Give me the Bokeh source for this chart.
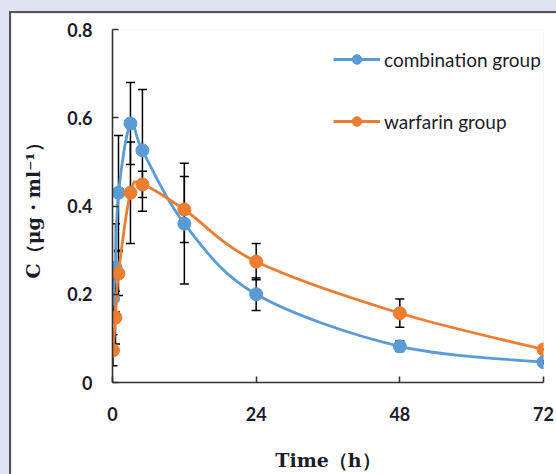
from bokeh.plotting import figure
from bokeh.models import ColumnDataSource, Whisker, TeeHead, Legend, LegendItem, Range1d, FixedTicker
from bokeh.embed import file_html
from bokeh.resources import INLINE

# ---- data ----
times = [0.083, 0.5, 1, 3, 5, 12, 24, 48, 72]
combination = [0.19, 0.26, 0.43, 0.587, 0.526, 0.36, 0.20, 0.082, 0.046]
combination_sd = [0.05, 0.10, 0.13, 0.093, 0.138, 0.137, 0.037, 0.012, 0.004]
warfarin = [0.073, 0.147, 0.247, 0.43, 0.449, 0.392, 0.274, 0.157, 0.075]
warfarin_sd = [0.035, 0.06, 0.05, 0.115, 0.03, 0.075, 0.041, 0.032, 0.0]
x_ticks = [0, 24, 48, 72]
y_ticks = [0, 0.2, 0.4, 0.6, 0.8]
y_tick_labels = ["0", "0.2", "0.4", "0.6", "0.8"]
series_names = ["combination group", "warfarin group"]

BLUE = "#5b9bd5"
ORANGE = "#ed7d31"
TEXT = "#1c1c28"

p = figure(width=547, height=463, output_backend="svg", toolbar_location=None,
           x_range=Range1d(0, 72), y_range=Range1d(0, 0.8),
           min_border_left=101, min_border_right=15, min_border_top=16, min_border_bottom=94)
p.styles = {"border-left": "2px solid #555", "border-top": "2px solid #555"}
p.background_fill_color = "white"
p.border_fill_color = "white"
p.outline_line_color = None
p.grid.visible = False

for ax in (p.xaxis[0], p.yaxis[0]):
    ax.axis_line_color = "#333333"
    ax.axis_line_width = 1.6
    ax.major_tick_line_color = "#333333"
    ax.major_tick_line_width = 1.6
    ax.major_tick_in = 6
    ax.major_tick_out = 0
    ax.minor_tick_line_color = None
    ax.major_label_text_font = "Lato"
    ax.major_label_text_font_style = "bold"
    ax.major_label_text_font_size = "18px"
    ax.major_label_text_color = TEXT
    ax.axis_label_text_font = "DejaVu Serif"
    ax.axis_label_text_font_style = "bold"
    ax.axis_label_text_color = TEXT

p.xaxis.ticker = FixedTicker(ticks=x_ticks)
p.xaxis.major_label_standoff = 24
p.xaxis.axis_label = "Time（h）"
p.xaxis.axis_label_text_font_size = "19px"
p.xaxis.axis_label_standoff = 25

p.yaxis.ticker = FixedTicker(ticks=y_ticks)
p.yaxis.major_label_overrides = {t: l for t, l in zip(y_ticks, y_tick_labels)}
p.yaxis.major_label_standoff = 20
p.yaxis.axis_label = "C（μg・ml⁻¹）"
p.yaxis.axis_label_text_font_size = "19px"
p.yaxis.axis_label_standoff = 20


def smooth_segments(xs, ys):
    n = len(xs)
    seg = dict(x0=[], y0=[], x1=[], y1=[], cx0=[], cy0=[], cx1=[], cy1=[])
    for i in range(n - 1):
        xm, ym = (xs[i - 1], ys[i - 1]) if i > 0 else (xs[i], ys[i])
        xp, yp = (xs[i + 2], ys[i + 2]) if i + 2 < n else (xs[i + 1], ys[i + 1])
        seg["x0"].append(xs[i]); seg["y0"].append(ys[i])
        seg["x1"].append(xs[i + 1]); seg["y1"].append(ys[i + 1])
        seg["cx0"].append(xs[i] + (xs[i + 1] - xm) / 6)
        seg["cy0"].append(ys[i] + (ys[i + 1] - ym) / 6)
        seg["cx1"].append(xs[i + 1] - (xp - xs[i]) / 6)
        seg["cy1"].append(ys[i + 1] - (yp - ys[i]) / 6)
    return seg


items = []
for name, vals, sds, col in [(series_names[0], combination, combination_sd, BLUE),
                             (series_names[1], warfarin, warfarin_sd, ORANGE)]:
    src = ColumnDataSource(dict(t=times, v=vals,
                                lo=[v - s for v, s in zip(vals, sds)],
                                hi=[v + s for v, s in zip(vals, sds)]))
    w = Whisker(base="t", lower="lo", upper="hi", source=src,
                line_color="black", line_width=1.5,
                upper_head=TeeHead(size=9, line_color="black", line_width=1.5),
                lower_head=TeeHead(size=9, line_color="black", line_width=1.5))
    p.add_layout(w)
    seg = smooth_segments(times, vals)
    bz = p.bezier(source=ColumnDataSource(seg), x0="x0", y0="y0", x1="x1", y1="y1",
                  cx0="cx0", cy0="cy0", cx1="cx1", cy1="cy1", line_color=col, line_width=2.8)
    sc = p.scatter("t", "v", source=src, size=13, fill_color=col, line_color=col)
    items.append(LegendItem(label=name, renderers=[bz, sc]))

legend = Legend(items=items, location=(221, 249))
legend.background_fill_alpha = 0
legend.border_line_color = None
legend.padding = 0
legend.margin = 0
legend.glyph_width = 47
legend.glyph_height = 24
legend.label_height = 24
legend.spacing = 38
legend.label_standoff = 4
legend.label_text_font = "Lato"
legend.label_text_font_size = "19px"
legend.label_text_color = TEXT
p.add_layout(legend)

html = file_html(p, INLINE)
html = html.replace("</head>", "<style>html,body{background:#dfe3ef;overflow:hidden;}body{margin:11px 0 0 9px;}</style></head>", 1)
open("out.html", "w").write(html)
